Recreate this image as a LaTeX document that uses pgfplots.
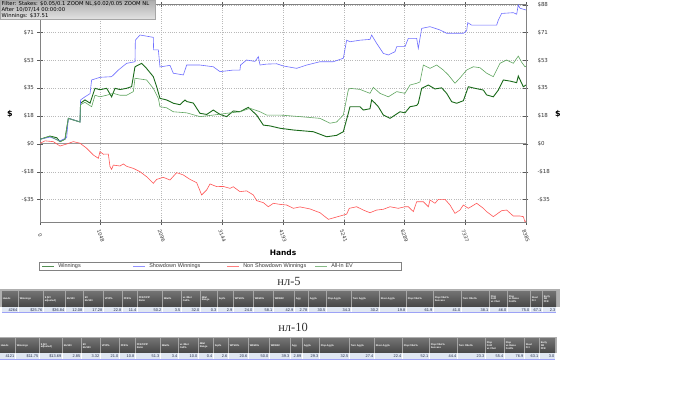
\documentclass[border=0pt]{standalone}
\usepackage{fontspec}
\setmainfont{DejaVu Sans}
\newfontfamily\arial{Liberation Sans}
\newfontfamily\tnr{Liberation Serif}
\usepackage{pgfplots}
\pgfplotsset{compat=1.18}
\definecolor{wgreen}{RGB}{25,105,25}
\definecolor{evgreen}{RGB}{95,165,95}
\definecolor{sdblue}{RGB}{110,110,255}
\definecolor{nsdred}{RGB}{255,85,85}
\definecolor{framegray}{RGB}{130,130,130}
\definecolor{tickgray}{RGB}{90,90,90}
\definecolor{dotgray}{RGB}{185,185,185}
\definecolor{zerogray}{RGB}{150,150,150}
\definecolor{labelgray}{RGB}{55,55,55}
\definecolor{hdrtop}{RGB}{115,115,115}
\definecolor{hdrbot}{RGB}{70,70,70}
\definecolor{rowfill}{RGB}{224,231,242}
\definecolor{band}{RGB}{175,175,175}
\definecolor{valtext}{RGB}{30,40,70}

\pgfplotstableread{
h v
0 3
173 5
288 4
345 1.5
431 3
489 16.3
690 14
700 25.9
776 28
863 26
949 35.4
1035 34.5
1150 35.4
1236 30
1294 35.4
1380 34.6
1495 35.4
1581 36.5
1639 49.1
1754 51.3
1840 48
1955 42.8
2013 36.4
2070 29
2185 28
2300 25.9
2415 25
2502 28
2531 27
2646 26
2760 19.5
2876 18.8
2990 21.6
3105 18.8
3220 17.4
3335 21
3450 20.5
3594 23.3
3738 18.4
3853 12
3968 11.5
4141 10
4371 8.9
4716 7.8
4946 4.6
5118 5.5
5233 7.8
5319 19.5
5348 23.7
5521 23.7
5578 21.6
5693 22.4
5722 28
5780 26
5837 23.7
5924 18.4
6039 16.3
6125 18.4
6211 20.5
6297 19.8
6384 23.7
6499 24.5
6527 25.9
6585 35.4
6700 37.5
6815 35
6930 35.7
7016 32.2
7102 26.9
7189 25.9
7304 27.5
7390 36.4
7505 35.4
7649 34.3
7706 31.2
7821 30
7908 34.3
7994 40.7
8109 40
8224 39
8252 43.2
8339 36.4
8385 37.5
}\winnings

\pgfplotstableread{
h v
0 3
173 4.4
345 2
460 4
489 16.4
690 14
700 28
776 30
863 32
891 40.7
1035 42.4
1236 42.8
1351 47
1495 51.3
1639 52.3
1645 66
1725 69.3
1955 67.8
1960 59.8
2042 59.8
2070 49
2243 50
2300 45
2473 43.9
2531 50.2
2760 50.2
2990 49.1
3105 46
3335 47
3450 47
3460 50.2
3565 53.4
3709 52.5
3767 55.5
3796 50.2
3911 50.8
4083 51
4198 49.6
4428 48.1
4601 50.2
4831 52.3
5061 52.3
5233 54.5
5291 66
5348 65
5521 66
5693 66.5
5722 69.3
5808 64
5924 57.6
6010 56.6
6125 58.7
6154 61.9
6297 61.9
6355 67.2
6499 67.2
6527 60.8
6585 73.5
6729 74.6
6901 72.5
7016 70.4
7304 70.4
7361 72
7380 77.1
7447 75.6
7879 75.6
7908 78.8
7965 83
8166 83.5
8224 82.5
8252 88.4
8281 86.3
8385 85.2
}\showdown

\pgfplotstableread{
h v
0 0.4
86 2
230 1.5
345 -1.3
460 0
575 1.5
690 0.5
805 -2.7
920 -7
1006 -9.1
1035 -4.9
1093 -6.5
1179 -6.4
1208 -14.4
1236 -16.1
1265 -13.4
1380 -14
1438 -12.7
1495 -14.2
1610 -15.5
1725 -17.6
1840 -20.8
1955 -25
2013 -22.5
2128 -21.2
2243 -22.9
2358 -18.2
2473 -19.7
2588 -22.5
2703 -24.6
2789 -32.4
2876 -29.2
2933 -25.4
3048 -27.1
3163 -27
3278 -28.2
3335 -27.2
3450 -30.3
3565 -29.8
3680 -32.4
3738 -36
3853 -37.3
3939 -39.9
4026 -37.7
4141 -38.4
4256 -38.8
4371 -40.9
4486 -40
4658 -41.3
4831 -43.7
4975 -47.9
5061 -47
5176 -45.8
5291 -44.6
5336 -40.9
5463 -39.9
5578 -42
5693 -43.7
5808 -42
5924 -41.5
6039 -39.9
6182 -40.9
6297 -39.9
6355 -39.9
6441 -43
6499 -36.7
6614 -36.7
6700 -39.9
6729 -35.6
6815 -37.7
6872 -35.2
6988 -35.2
7074 -38.8
7160 -44.1
7246 -42
7304 -38.8
7390 -40.9
7534 -37.7
7649 -40.9
7706 -43
7821 -46.2
7965 -42.4
8051 -42
8166 -45.8
8281 -45.8
8339 -46.2
8367 -49.4
8385 -48.8
}\nonshowdown

\pgfplotstableread{
h v
0 3
173 5
345 1.5
431 3
489 16.3
690 14
700 25
776 26.5
891 23.7
949 31
1035 30
1150 31
1265 32.2
1380 31
1495 31
1610 33.3
1639 41.8
1840 40.7
1955 35.4
2042 29
2070 23.7
2185 23
2300 20.5
2531 19.8
2760 17.4
2990 18.4
3220 19.5
3450 20.5
3623 22.7
3796 20.5
3911 18.4
4141 18.4
4486 17.4
4831 16.3
5003 13.2
5118 14
5233 18.4
5319 34.3
5348 35.4
5521 34.7
5693 32.2
5751 36
5866 32.2
6010 30
6154 33.3
6297 32.2
6384 37.5
6499 38.6
6556 39.5
6614 50.2
6729 48.1
6844 50.2
6959 47
7045 43.9
7160 38.6
7246 42
7361 47
7476 49.1
7591 48.5
7706 45
7821 42.8
7936 51.3
8051 53.4
8166 51.3
8252 55.9
8310 52
8367 49.1
8385 49.5
}\allinev

\begin{document}
\begin{tikzpicture}
\useasboundingbox (0,0) rectangle (700bp,-394bp);
\fill[white] (0,0) rectangle (700bp,-394bp);

\begin{axis}[
  at={(40bp,-222bp)}, anchor=south west,
  scale only axis, width=486bp, height=217.2bp,
  xmin=0, xmax=8385, ymin=-49.6, ymax=88.5,
  xtick={0,1048,2096,3144,4193,5241,6289,7337,8385},
  xticklabels={0,1048,2096,3144,4193,5241,6289,7337,8385},
  minor x tick num=4,
  ytick={-35.4,-17.7,17.7,35.4,53.1,70.8,88.5},
  yticklabels={-\$35,-\$18,\$18,\$35,\$53,\$71,{}},
  extra y ticks={0}, extra y tick labels={\$0},
  extra y tick style={major grid style={solid, draw=zerogray, line width=1bp}},
  minor y tick num=4,
  grid=major,
  major grid style={dotgray, line width=0.5bp, dash pattern=on 0.6bp off 1.6bp},
  axis line style={framegray, line width=0.8bp},
  tick style={tickgray, line width=0.5bp},
  tick align=center, major tick length=5bp, minor tick length=3bp,
  tick label style={font=\fontsize{5.5}{6}\selectfont, text=labelgray},
  xticklabel style={yshift=-11bp, rotate=-70, anchor=center, font=\fontsize{5}{5.5}\selectfont},
  xlabel={Hands},
  xlabel style={at={(axis description cs:0.5,0)}, anchor=center, yshift=-31bp, font=\bfseries\fontsize{7.5}{8}\selectfont},
  ylabel={\$},
  ylabel style={at={(axis description cs:-0.0617,0.497)}, anchor=center, rotate=-90, font=\bfseries\fontsize{8}{9}\selectfont},
  legend style={at={(axis description cs:0,0)}, anchor=north west, xshift=-1bp, yshift=-39.7bp,
    draw=framegray, line width=0.5bp, inner xsep=0pt, inner ysep=1.5bp,
    font=\arial\fontsize{5.5}{6}\selectfont, text=labelgray,
    legend columns=4, column sep=0pt, nodes={inner sep=0pt, anchor=west}},
  legend image code/.code={\path[draw=none, fill=none] (-3bp,-2.5bp) rectangle (16bp,2.5bp); \draw[#1, line width=1.3bp, opacity=0.75] (0bp,0bp) -- (12bp,0bp);},
]
\addplot[wgreen, line width=0.9bp] table[x=h,y=v] {\winnings};
\addlegendentry[text width=72bp]{Winnings}
\addplot[sdblue, line width=0.6bp] table[x=h,y=v] {\showdown};
\addlegendentry[text width=75bp]{Showdown Winnings}
\addplot[nsdred, line width=0.6bp] table[x=h,y=v] {\nonshowdown};
\addlegendentry[text width=69bp]{Non Showdown Winnings}
\addplot[evgreen, line width=0.6bp] table[x=h,y=v] {\allinev};
\addlegendentry[text width=70bp]{All-In EV}
\end{axis}

\begin{axis}[
  at={(40bp,-222bp)}, anchor=south west,
  scale only axis, width=486bp, height=217.2bp,
  xmin=0, xmax=8385, ymin=-49.6, ymax=88.5,
  axis x line=none, axis y line*=right, axis line style={draw=none},
  ytick={-35.4,-17.7,0,17.7,35.4,53.1,70.8,88.5},
  yticklabels={-\$35,-\$18,\$0,\$18,\$35,\$53,\$71,\$88},
  major tick length=0pt, minor tick num=0,
  tick label style={font=\fontsize{5.5}{6}\selectfont, text=labelgray},
  yticklabel style={anchor=west, xshift=8bp},
]
\addplot[draw=none, forget plot] coordinates {(0,0)};
\end{axis}

\begin{scope}[x=1bp,y=-1bp]
% right y label
\node[font=\bfseries\fontsize{8}{9}\selectfont] at (558,114) {\$};
% filter box
\shade[top color=gray!65, bottom color=gray!22, draw=gray!70] (0,0) rectangle (155,19.5);
\begin{scope}[every node/.style={anchor=west, inner sep=0pt, font=\fontsize{5.3}{5.6}\selectfont, text=black}]
\node at (1.5,3.5) {Filter: Stakes: \$0.05/0.1 ZOOM NL,\$0.02/0.05 ZOOM NL};
\node at (1.5,9.6) {After 10/07/14 00:00:00};
\node at (1.5,15.7) {Winnings: \$37.51};
\end{scope}
% section titles
\node[font=\tnr\fontsize{12.5}{14}\selectfont, text=black!80] at (289,281) {нл-5};
\node[font=\tnr\fontsize{12.5}{14}\selectfont, text=black!80] at (293,327) {нл-10};
% table 1
\fill[band] (0,289) rectangle (560,307);
\foreach \l/\r/\hd/\val in {
 2/18/{Hands}/4264, 19/43/{Winnings}/{\$25.76}, 44/65/{\$ (EV\\adjusted)}/{\$36.84},
 66/83/{bb/100}/12.08, 84/103/{EV\\bb/100}/17.28, 104/122/{VPIP\%}/22.8, 123/137/{PFR\%}/11.4,
 138/162/{PFR/VPIP\\Ratio}/50.2, 163/181/{3Bet\%}/3.5, 182/200/{vs 3Bet\\Call\%}/32.0,
 201/217/{4Bet\\Range}/0.3, 218/233/{Sqz\%}/2.9, 234/253/{WTSD\%}/24.0, 254/273/{W\$SD\%}/58.1,
 274/294/{W\$WSF}/42.9, 295/308/{Agg}/2.78, 309/326/{Agg\%}/30.5, 327/351/{Flop Agg\%}/34.3,
 352/379/{Turn Agg\%}/30.2, 380/406/{River Agg\%}/19.8, 407/433/{Flop CBet\%}/61.9,
 434/461/{Flop CBet\%\\Success}/41.0, 462/489/{Turn CBet\%}/38.1, 490/507/{Flop\\Fold\\vs Cbet}/46.0,
 508/530/{Flop\\vs Raise\\Fold\%}/75.0, 531/542/{Steal\\Pct}/67.1, 543/556/{Early\\SB\\PFR}/2.3}
{
  \shade[top color=hdrtop, bottom color=hdrbot] (\l,291) rectangle (\r,307);
  \node[anchor=west, align=left, inner sep=0.6bp, text=white, font=\arial\bfseries\fontsize{2.5}{2.8}\selectfont] at (\l,299) {\hd};
  \fill[rowfill] (\l,307) rectangle (\r,312.5);
  \draw[white, line width=0.4bp] (\r,307) -- (\r,312.5);
  \node[anchor=east, inner sep=0.6bp, text=valtext, font=\arial\fontsize{3.9}{4}\selectfont] at (\r,309.9) {\val};
}
\draw[rowfill!70!blue, line width=0.3bp] (2,312.5) -- (556,312.5);
% table 2
\fill[band] (0,336.5) rectangle (557,353.3);
\foreach \l/\r/\hd/\val in {
 0/15/{Hands}/4121, 16/39/{Winnings}/{\$11.75}, 40/62/{\$ (EV\\adjusted)}/{\$13.69},
 63/81/{bb/100}/2.85, 82/100/{EV\\bb/100}/3.32, 101/119/{VPIP\%}/21.0, 120/135/{PFR\%}/10.8,
 136/160/{PFR/VPIP\\Ratio}/51.3, 161/178/{3Bet\%}/3.4, 179/198/{vs 3Bet\\Call\%}/10.0,
 199/213/{4Bet\\Range}/0.4, 214/228/{Sqz\%}/2.6, 229/248/{WTSD\%}/20.6, 249/269/{W\$SD\%}/50.0,
 270/290/{W\$WSF}/39.3, 291/302/{Agg}/2.89, 303/319/{Agg\%}/29.3, 320/349/{Flop Agg\%}/32.5,
 350/374/{Turn Agg\%}/27.4, 375/402/{River Agg\%}/22.4, 403/429/{Flop CBet\%}/52.1,
 430/457/{Flop CBet\%\\Success}/44.4, 458/485/{Turn CBet\%}/23.3, 486/504/{Flop\\Fold\\vs Cbet}/55.4,
 505/524/{Flop\\vs Raise\\Fold\%}/76.9, 525/539/{Steal\\Pct}/63.1, 540/555/{Early\\SB\\PFR}/3.0}
{
  \shade[top color=hdrtop, bottom color=hdrbot] (\l,338.3) rectangle (\r,353.3);
  \node[anchor=west, align=left, inner sep=0.6bp, text=white, font=\arial\bfseries\fontsize{2.5}{2.8}\selectfont] at (\l,345.8) {\hd};
  \fill[rowfill] (\l,353.3) rectangle (\r,359.3);
  \draw[white, line width=0.4bp] (\r,353.3) -- (\r,359.3);
  \node[anchor=east, inner sep=0.6bp, text=valtext, font=\arial\fontsize{3.9}{4}\selectfont] at (\r,356.4) {\val};
}
\draw[rowfill!70!blue, line width=0.3bp] (0,359.3) -- (555,359.3);
\end{scope}
\end{tikzpicture}
\end{document}
